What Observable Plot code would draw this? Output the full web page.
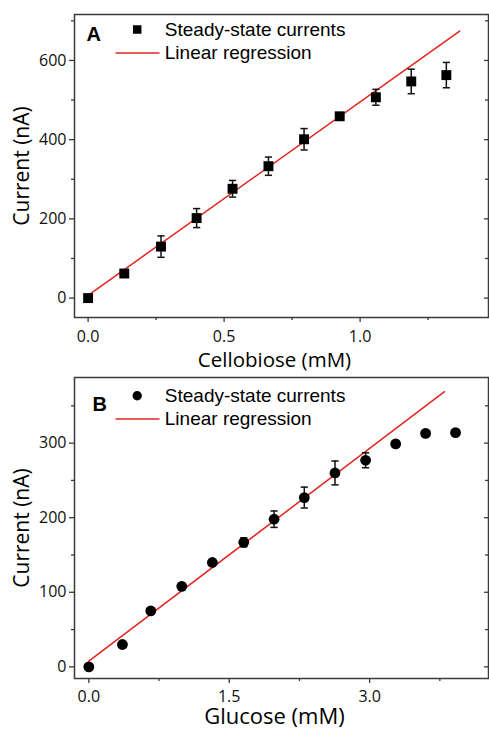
<!DOCTYPE html>
<html>
<head>
<meta charset="utf-8">
<script src="https://cdn.jsdelivr.net/npm/d3@7"></script>
<script src="https://cdn.jsdelivr.net/npm/@observablehq/plot@0.6"></script>
<style>
  html, body { margin: 0; padding: 0; background: #fff; }
  #chart svg { display: block; }
</style>
</head>
<body>
<div id="chart"></div>
<script>
// ---- Panel A: Cellobiose ----
const cellobioseX = [0, 0.133, 0.268, 0.399, 0.531, 0.663, 0.794, 0.925, 1.058, 1.188, 1.317];
const cellobioseY = [0, 62, 130, 202, 276, 333, 401, 459, 507, 547, 563];
const cellobioseErr = [3, 5, 27, 24, 21, 23, 27, 5, 20, 31, 32];
const regressionAX = [0, 1.366];
const regressionAY = [7, 674];
const xTicksA = [0, 0.5, 1.0];
const xMinorA = [0.25, 0.75, 1.25];
const yTicksA = [0, 200, 400, 600];
const yMinorA = [100, 300, 500, 700];

// ---- Panel B: Glucose ----
const glucoseX = [0, 0.359, 0.662, 0.993, 1.32, 1.655, 1.979, 2.302, 2.63, 2.957, 3.278, 3.598, 3.918];
const glucoseY = [0, 30, 75, 108, 140, 167, 198, 227, 260, 277, 299, 313, 314];
const glucoseErr = [2, 3, 3, 3, 3, 6, 11, 14, 16, 10, 4, 3, 3];
const regressionBX = [0, 3.8];
const regressionBY = [7.6, 369];
const xTicksB = [0, 1.5, 3.0];
const xMinorB = [0.75, 2.25, 3.75];
const yTicksB = [0, 100, 200, 300];
const yMinorB = [50, 150, 250, 350];

const legendLabels = ["Steady-state currents", "Linear regression"];
const yTitle = "Current (nA)";

const AXIS = "#3a3a3a";
const RED = "#e3231f";
const capSymbol = { draw(ctx) { ctx.moveTo(-3.6, 0); ctx.lineTo(3.6, 0); } };
const legendLineSymbol = { draw(ctx) { ctx.moveTo(-22, 0); ctx.lineTo(22, 0); } };

function panel(o) {
  const W = 489, mL = 74, mR = 1;
  const innerW = W - mL - mR;
  const data = o.xs.map((x, i) => ({ x, y: o.ys[i], e: o.es[i] }));
  const reg = o.regX.map((x, i) => ({ x, y: o.regY[i] }));
  return Plot.plot({
    width: W,
    height: o.height,
    marginLeft: mL,
    marginRight: mR,
    marginTop: o.marginTop,
    marginBottom: o.marginBottom,
    style: { fontFamily: "'Open Sans', sans-serif", fontSize: "16px", color: "#111", background: "#fff" },
    x: { domain: o.xDomain },
    y: { domain: o.yDomain },
    marks: [
      Plot.axisY({ ticks: o.yTicks, tickSize: 5, tickPadding: 3, fontSize: 16, label: null, stroke: AXIS, strokeWidth: 1.3, tickFormat: d3.format("d") }),
      Plot.axisY({ ticks: o.yMinor, tickSize: 3, tickFormat: () => "", label: null, stroke: AXIS, strokeWidth: 1.3 }),
      Plot.axisX({ ticks: o.xTicks, tickSize: 5, tickPadding: o.xTickPadding, fontSize: 16, label: null, stroke: AXIS, strokeWidth: 1.3, tickFormat: d3.format(".1f") }),
      Plot.axisX({ ticks: o.xMinor, tickSize: 3, tickFormat: () => "", label: null, stroke: AXIS, strokeWidth: 1.3 }),
      Plot.tickY(o.yTicks, { y: d => d, insetLeft: innerW - 4, stroke: AXIS, strokeWidth: 1.3 }),
      Plot.tickY(o.yMinor, { y: d => d, insetLeft: innerW - 3, stroke: AXIS, strokeWidth: 1.3 }),
      Plot.frame({ stroke: AXIS, strokeWidth: 1.5 }),
      Plot.line(reg, { x: "x", y: "y", stroke: RED, strokeWidth: 1.5 }),
      Plot.ruleX(data, { x: "x", y1: d => d.y - d.e, y2: d => d.y + d.e, stroke: "#111", strokeWidth: 1.5 }),
      Plot.dot(data, { x: "x", y: d => d.y + d.e, symbol: capSymbol, stroke: "#111", strokeWidth: 1.5 }),
      Plot.dot(data, { x: "x", y: d => d.y - d.e, symbol: capSymbol, stroke: "#111", strokeWidth: 1.5 }),
      Plot.dot(data, { x: "x", y: "y", symbol: o.symbol, r: o.r, fill: "#000", stroke: "none" }),
      // panel letter
      Plot.text([o.letter], { x: null, y: null, text: d => d, frameAnchor: "top-left", dx: o.letterDx, dy: o.letterDy, lineAnchor: "middle", textAnchor: "start", fontWeight: "bold", fontSize: 20, fontFamily: "'Liberation Sans', Arial, sans-serif", fill: "#000" }),
      // legend
      Plot.dot([0], { x: null, y: null, frameAnchor: "top-left", dx: 62.7, dy: o.leg1Dy, symbol: o.symbol, r: o.legendR, fill: "#000", stroke: "none" }),
      Plot.text([legendLabels[0]], { x: null, y: null, text: d => d, frameAnchor: "top-left", dx: 90.3, dy: o.leg1Dy, lineAnchor: "middle", textAnchor: "start", fontSize: 19, fontFamily: "'Liberation Sans', Arial, sans-serif", fill: "#000" }),
      Plot.dot([0], { x: null, y: null, frameAnchor: "top-left", dx: 63, dy: o.leg2Dy, symbol: legendLineSymbol, stroke: RED, strokeWidth: 1.5 }),
      Plot.text([legendLabels[1]], { x: null, y: null, text: d => d, frameAnchor: "top-left", dx: 90.3, dy: o.leg2Dy, lineAnchor: "middle", textAnchor: "start", fontSize: 19, fontFamily: "'Liberation Sans', Arial, sans-serif", fill: "#000" }),
      // axis titles
      Plot.text([yTitle], { x: null, y: null, text: d => d, frameAnchor: "left", dx: -52, rotate: -90, lineAnchor: "middle", textAnchor: "middle", fontSize: 21, fill: "#000" }),
      Plot.text([o.xTitle], { x: null, y: null, text: d => d, frameAnchor: "bottom", dx: -7, dy: o.xTitleDy, lineAnchor: "middle", textAnchor: "middle", fontSize: o.xTitleSize, fill: "#000" })
    ]
  });
}

const chartA = panel({
  xs: cellobioseX, ys: cellobioseY, es: cellobioseErr,
  regX: regressionAX, regY: regressionAY,
  xDomain: [-0.05, 1.472], yDomain: [-49, 716],
  xTicks: xTicksA, xMinor: xMinorA, yTicks: yTicksA, yMinor: yMinorA,
  height: 374, marginTop: 14, marginBottom: 57,
  letter: "A", letterDx: 12, letterDy: 20.5,
  symbol: "square", r: 5.6, legendR: 4.8,
  leg1Dy: 15, leg2Dy: 38.5, xTickPadding: 8,
  xTitle: "Cellobiose (mM)", xTitleDy: 43, xTitleSize: 20.5
});
const chartB = panel({
  xs: glucoseX, ys: glucoseY, es: glucoseErr,
  regX: regressionBX, regY: regressionBY,
  xDomain: [-0.153, 4.27], yDomain: [-15.6, 388],
  xTicks: xTicksB, xMinor: xMinorB, yTicks: yTicksB, yMinor: yMinorB,
  height: 357, marginTop: 3, marginBottom: 53,
  letter: "B", letterDx: 18, letterDy: 27,
  symbol: "circle", r: 5.4, legendR: 4.7,
  leg1Dy: 18.3, leg2Dy: 41.6, xTickPadding: 7,
  xTitle: "Glucose (mM)", xTitleDy: 38.5, xTitleSize: 22
});
document.getElementById("chart").append(chartA, chartB);
</script>
</body>
</html>
